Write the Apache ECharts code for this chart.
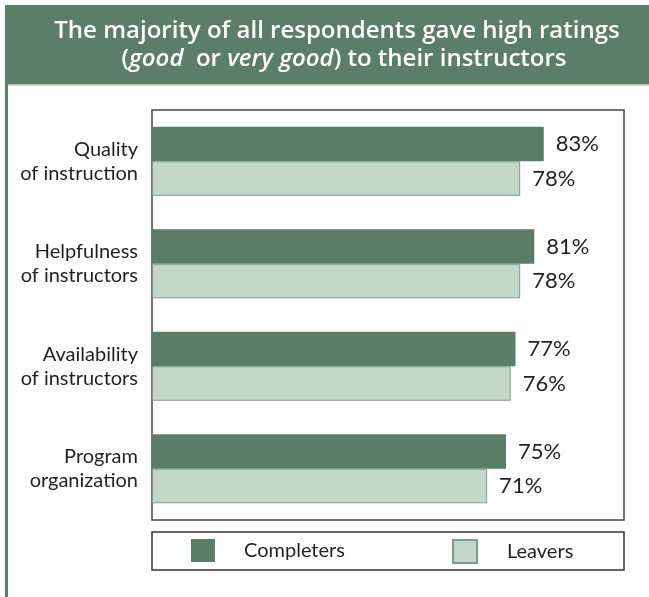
<!DOCTYPE html>
<html>
<head>
<meta charset="utf-8">
<script src="https://cdn.jsdelivr.net/npm/echarts@6/dist/echarts.min.js"></script>
<style>html,body{margin:0;padding:0;background:#fff}#c{width:649px;height:597px}</style>
</head>
<body>
<div id="c"></div>
<script>
var categories = ['Quality\nof instruction', 'Helpfulness\nof instructors', 'Availability\nof instructors', 'Program\norganization'];
var completers = [83, 81, 77, 75];
var leavers = [78, 78, 76, 71];
var seriesNames = ['Completers', 'Leavers'];

var FONT = 'Lato';
var TFONT = '"Open Sans"';
var TXT = '#231f20';
var DARK = '#5a7d68';
var LIGHT = '#c3d6ca';
var LIGHT_BORDER = '#7b9d89';

var chart = echarts.init(document.getElementById('c'), null, {renderer: 'canvas'});
chart.setOption({
  animation: false,
  backgroundColor: '#fff',
  graphic: [
    {type: 'rect', shape: {x: 5, y: 5, width: 644, height: 79}, style: {fill: '#5b7e69'}, z: 0},
    {type: 'rect', shape: {x: 5, y: 84, width: 644, height: 1.5}, style: {fill: '#a9c0b3'}, z: 0},
    {type: 'rect', shape: {x: 5, y: 84, width: 3, height: 513}, style: {fill: '#5b7e69'}, z: 0},
    {type: 'text', x: 337, y: 31, style: {
      text: 'The majority of all respondents gave high ratings',
      fill: '#fff', font: '600 24px ' + TFONT, align: 'center', verticalAlign: 'middle'
    }, z: 2},
    {type: 'text', x: 344, y: 59, style: {
      text: '({i|good}  or {i|very good}) to their instructors',
      fill: '#fff', font: '600 24px ' + TFONT, align: 'center', verticalAlign: 'middle',
      rich: {i: {fontStyle: 'italic', fontWeight: 600, fontSize: 24, fontFamily: 'Open Sans', fill: '#fff', color: '#fff'}}
    }, z: 2},
    {type: 'rect', shape: {x: 152, y: 532, width: 472, height: 38}, style: {fill: 'none', stroke: '#333', lineWidth: 1.5}, z: 1}
  ],
  legend: [
    {data: [seriesNames[0]], left: 191, top: 539, padding: 0, itemWidth: 24, itemHeight: 23, icon: 'rect',
     textStyle: {fontFamily: FONT, fontSize: 20, color: TXT, padding: [2, 0, 0, 24]}},
    {data: [seriesNames[1]], left: 452, top: 539, padding: 0, itemWidth: 24, itemHeight: 23, icon: 'rect',
     textStyle: {fontFamily: FONT, fontSize: 20, color: TXT, padding: [2, 0, 0, 25]}}
  ],
  grid: {left: 152, right: 25, top: 110, bottom: 77, show: true, borderColor: '#444', borderWidth: 1.5, backgroundColor: 'transparent'},
  xAxis: {type: 'value', min: 0, max: 100, show: false},
  yAxis: {
    type: 'category', data: categories, inverse: true,
    axisLine: {show: false}, axisTick: {show: false}, splitLine: {show: false},
    axisLabel: {fontFamily: FONT, fontSize: 20, lineHeight: 24, color: TXT, margin: 14, align: 'right'}
  },
  series: [
    {name: seriesNames[0], type: 'bar', data: completers, barWidth: 34.5, barGap: '0%',
     itemStyle: {color: DARK},
     label: {show: true, position: 'right', distance: 12, formatter: '{c}%', fontFamily: FONT, fontSize: 22, color: TXT}},
    {name: seriesNames[1], type: 'bar', data: leavers, barWidth: 34.5, barGap: '0%',
     itemStyle: {color: LIGHT, borderColor: LIGHT_BORDER, borderWidth: 1},
     label: {show: true, position: 'right', distance: 12, formatter: '{c}%', fontFamily: FONT, fontSize: 22, color: TXT}}
  ]
});
</script>
</body>
</html>
